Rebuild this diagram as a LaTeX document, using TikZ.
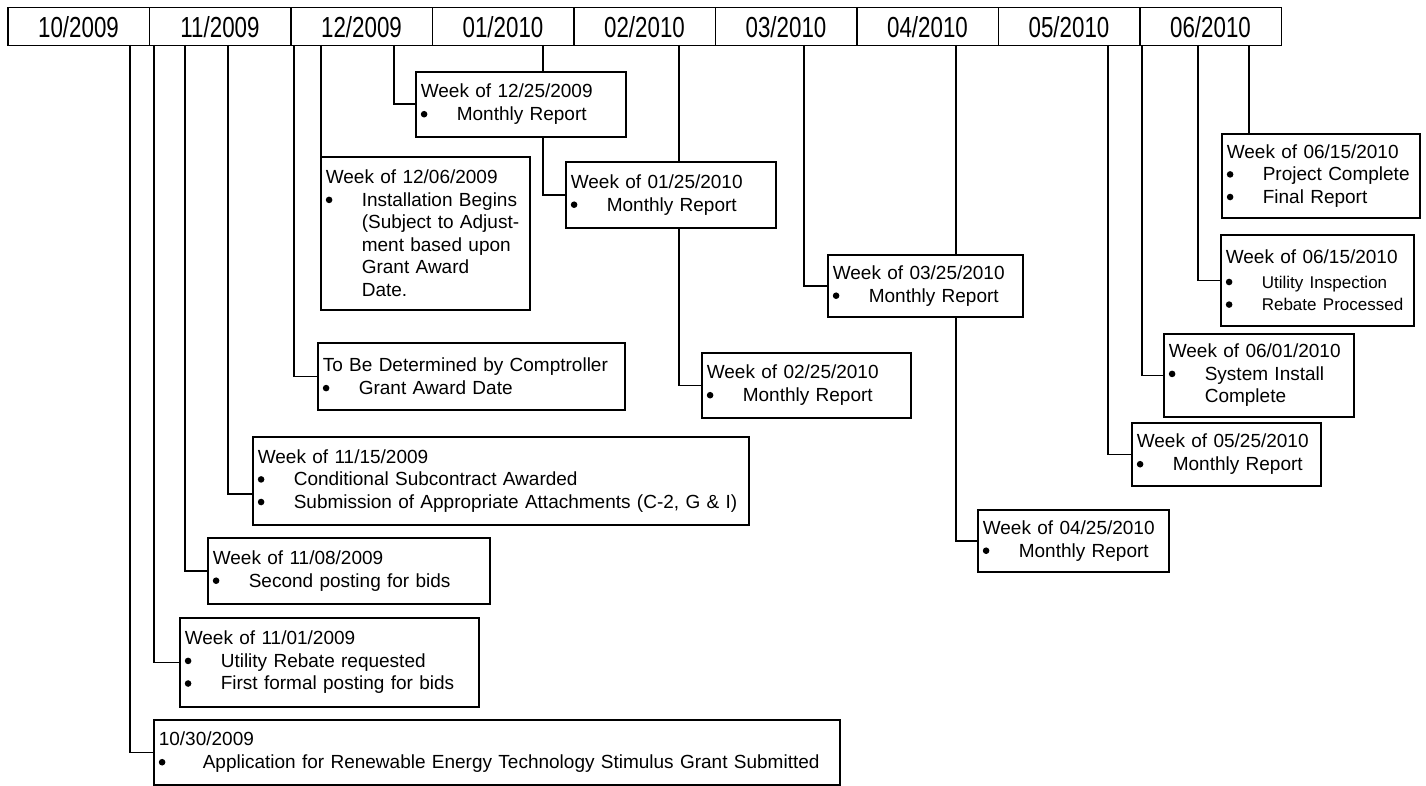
\documentclass[tikz,border=0pt]{standalone}
\usepackage{fontspec}
\setmainfont{Liberation Sans}
\newfontfamily\hdrfont[FakeStretch=0.77]{Liberation Sans}
\usetikzlibrary{backgrounds}
\newcommand{\bul}{\tikz[baseline=0pt]\fill (3.4pt,6.3pt) circle (3.3pt);}
\newcommand{\itm}[1]{\mbox{\makebox[36pt][l]{\bul}#1}}
\newcommand{\cnt}[1]{\mbox{\hspace*{36pt}#1}}

\begin{document}
\begin{tikzpicture}[x=1pt,y=-1pt,
    mcell/.style={draw,line width=1.5pt,minimum width=141.5pt,minimum height=38pt,
      anchor=north west,inner sep=0pt,font=\hdrfont\fontsize{29}{30}\selectfont},
    evt/.style={draw,fill=white,line width=1.6pt,anchor=north west,inner xsep=5pt,
      inner ysep=2pt,align=left,font=\fontsize{19}{22.6}\selectfont},
    link/.style={line width=1.6pt}]
    \useasboundingbox (0,0) rectangle (1426,786);
    % month bar
    \foreach \mo/\yr [count=\i] in {10/2009,11/2009,12/2009,01/2010,02/2010,03/2010,04/2010,05/2010,06/2010}
      \node[mcell] (m\i) at ({7+141.5*(\i-1)},7) {\mo/\yr};
    % tick points under the bar
    \coordinate (t1030) at (130,45);
    \coordinate (t1101) at (154,45);
    \coordinate (t1108) at (185,45);
    \coordinate (t1115) at (228,45);
    \coordinate (ttbd) at (294,45);
    \coordinate (t1206) at (321,45);
    \coordinate (t1225) at (394,45);
    \coordinate (t0125) at (543,45);
    \coordinate (t0225) at (679,45);
    \coordinate (t0325) at (804,45);
    \coordinate (t0425) at (956,45);
    \coordinate (t0525) at (1108,45);
    \coordinate (t0601) at (1142,45);
    \coordinate (t0615b) at (1198,45);
    \coordinate (t0615a) at (1249,45);
    % events
    \node[evt,text width=200pt,minimum height=65pt] (w1225) at (415,71)
      {Week of 12/25/2009\\\itm{Monthly Report}};
    \node[evt,text width=199pt,minimum height=153pt] (w1206) at (320,156)
      {Week of 12/06/2009\\\itm{Installation Begins}\\\cnt{(Subject to Adjust-}\\\cnt{ment based upon}\\\cnt{Grant Award}\\\cnt{Date.}};
    \node[evt,text width=200pt,minimum height=66pt] (w0125) at (565,161)
      {Week of 01/25/2010\\\itm{Monthly Report}};
    \node[evt,text width=199pt,minimum height=65pt] (w0225) at (701,352)
      {Week of 02/25/2010\\\itm{Monthly Report}};
    \node[evt,text width=185pt,minimum height=62pt] (w0325) at (827,254)
      {Week of 03/25/2010\\\itm{Monthly Report}};
    \node[evt,text width=181pt,minimum height=62pt] (w0425) at (977,509)
      {Week of 04/25/2010\\\itm{Monthly Report}};
    \node[evt,text width=179pt,minimum height=63pt] (w0525) at (1131,422)
      {Week of 05/25/2010\\\itm{Monthly Report}};
    \node[evt,text width=180pt,minimum height=83pt] (w0601) at (1163,333)
      {Week of 06/01/2010\\\itm{System Install}\\\cnt{Complete}};
    \node[evt,text width=188pt,minimum height=84pt] (w0615a) at (1221,133)
      {Week of 06/15/2010\\\itm{Project Complete}\\\itm{Final Report}};
    \node[evt,text width=183pt,minimum height=91pt] (w0615b) at (1220,234)
      {Week of 06/15/2010\\[1pt]{\fontsize{17}{24}\selectfont\itm{Utility Inspection}\\\itm{Rebate Processed}}};
    \node[evt,text width=297pt,minimum height=67pt] (wtbd) at (317,342)
      {To Be Determined by Comptroller\\\itm{Grant Award Date}};
    \node[evt,text width=486pt,minimum height=88pt] (w1115) at (252,436)
      {Week of 11/15/2009\\\itm{Conditional Subcontract Awarded}\\\itm{Submission of Appropriate Attachments (C-2, G \& I)}};
    \node[evt,text width=272pt,minimum height=66pt] (w1108) at (207,537)
      {Week of 11/08/2009\\\itm{Second posting for bids}};
    \node[evt,text width=289pt,minimum height=89pt] (w1101) at (179,617)
      {Week of 11/01/2009\\\itm{Utility Rebate requested}\\\itm{First formal posting for bids}};
    \node[evt,text width=676pt,minimum height=65pt] (w1030) at (153,719)
      {10/30/2009\\\mbox{\makebox[44pt][l]{\bul}Application for Renewable Energy Technology Stimulus Grant Submitted}};
    % leader lines, kept behind the boxes
    \begin{scope}[on background layer]
      \draw[link] (t1030) |- (w1030.west);
      \draw[link] (t1101) |- (w1101.west);
      \draw[link] (t1108) |- (w1108.west);
      \draw[link] (t1115) |- ([yshift=-13pt]w1115.west);
      \draw[link] (ttbd) |- (wtbd.west);
      \draw[link] (t1206) -- (t1206 |- w1206.north);
      \draw[link] (t1225) |- (w1225.west);
      \draw[link] (t0125) |- (w0125.west);
      \draw[link] (t0225) |- (w0225.west);
      \draw[link] (t0325) |- (w0325.west);
      \draw[link] (t0425) |- (w0425.west);
      \draw[link] (t0525) |- (w0525.west);
      \draw[link] (t0601) |- (w0601.west);
      \draw[link] (t0615b) |- (w0615b.west);
      \draw[link] (t0615a) -- (t0615a |- w0615a.north);
    \end{scope}
  \end{tikzpicture}
\end{document}
